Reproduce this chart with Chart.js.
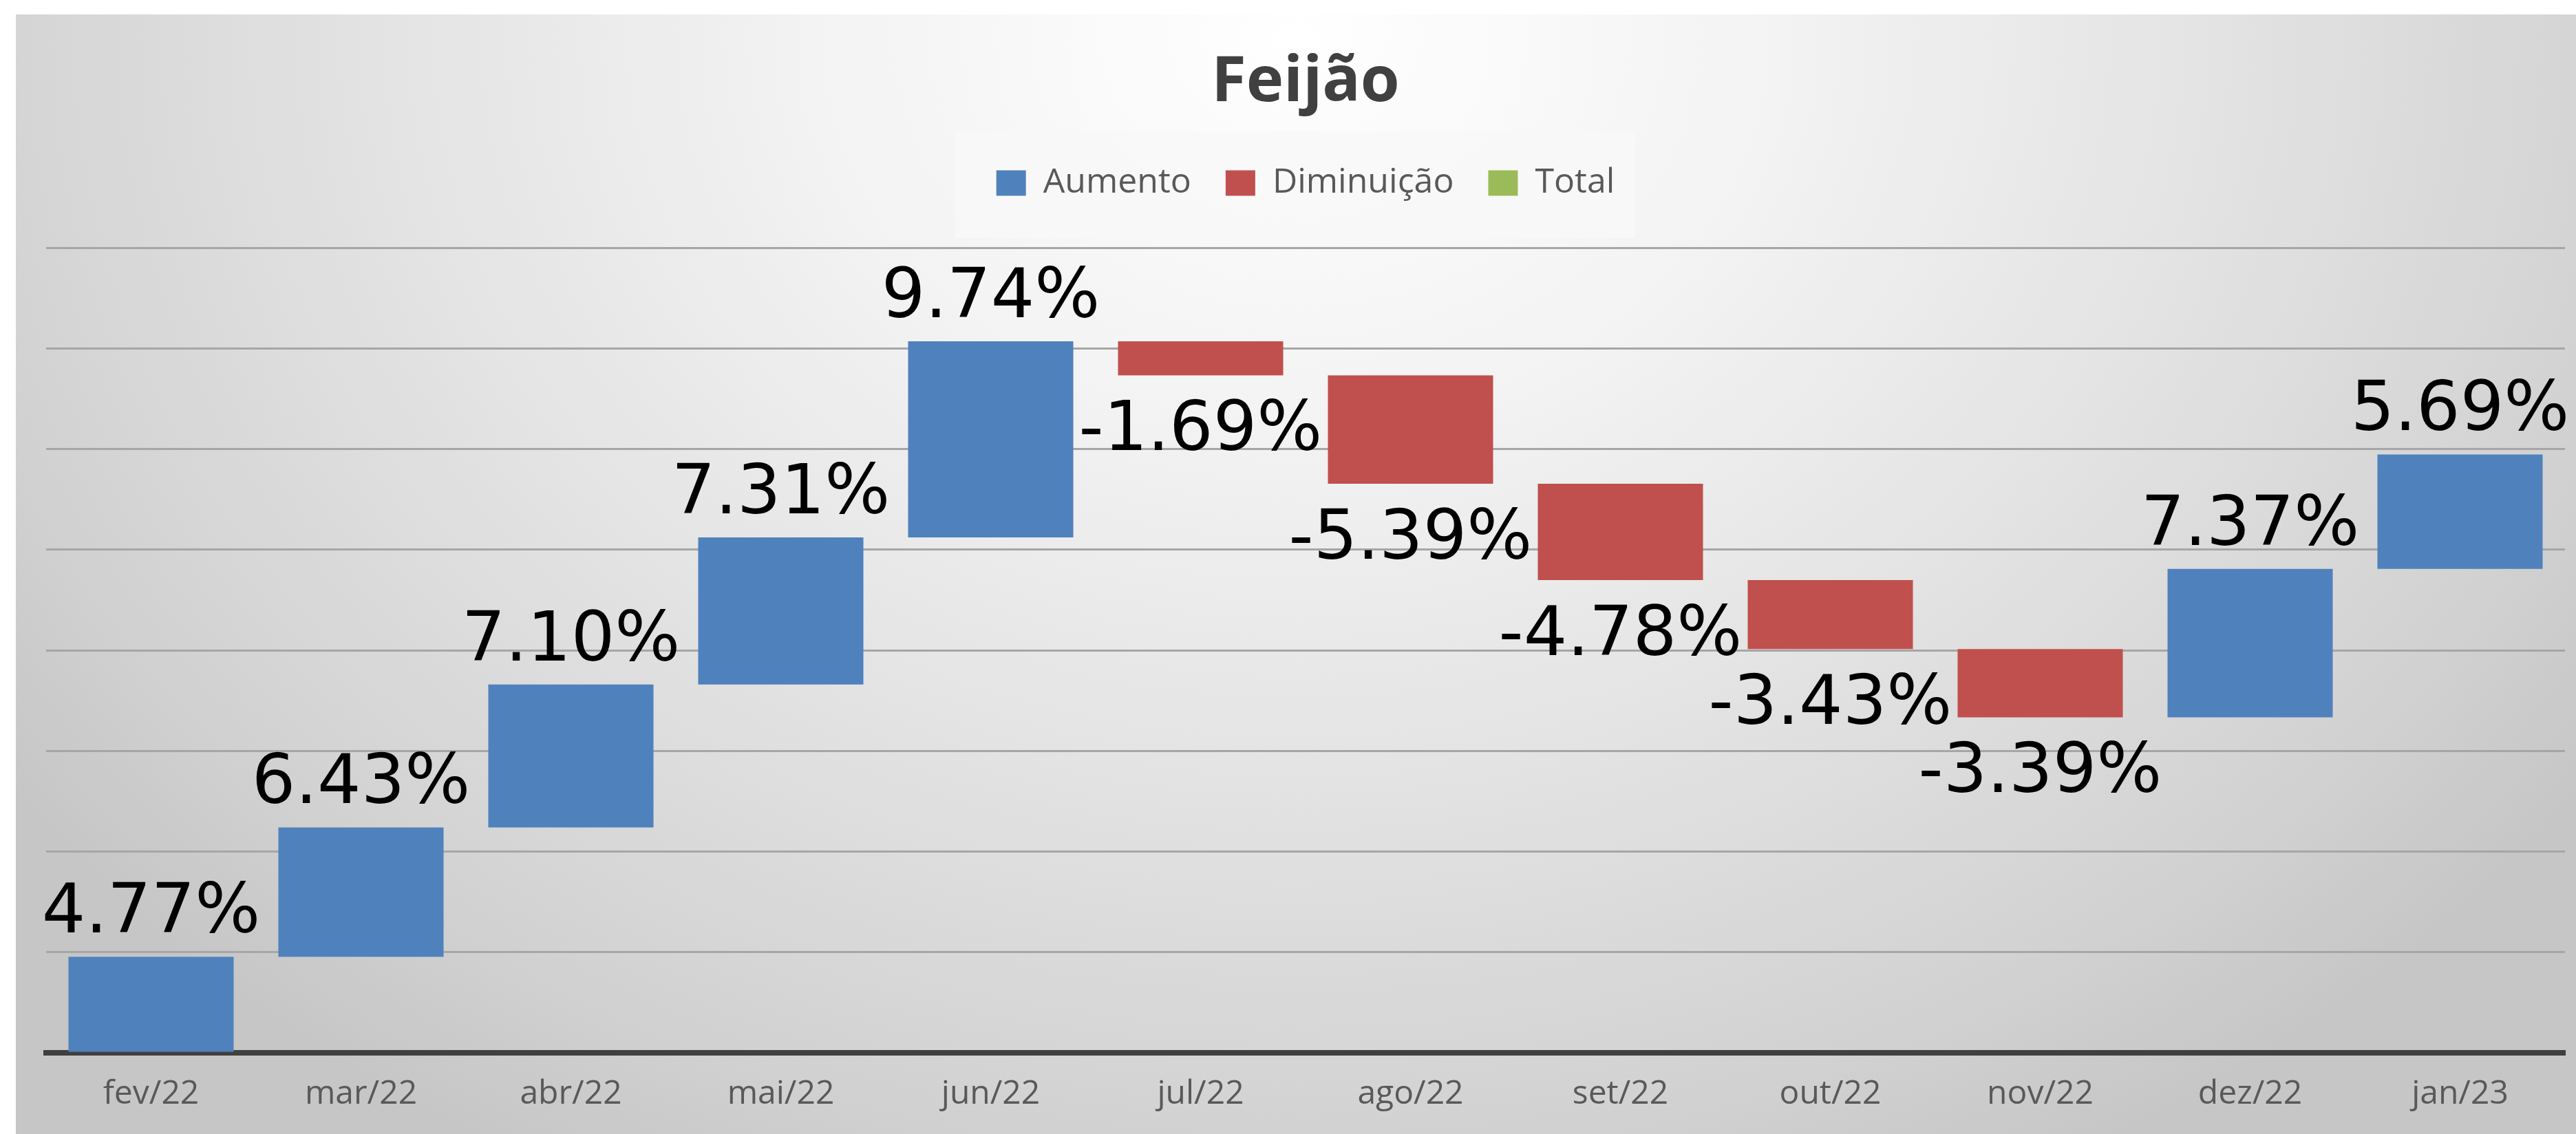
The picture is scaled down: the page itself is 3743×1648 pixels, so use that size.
<!DOCTYPE html>
<html>
<head>
<meta charset="utf-8">
<script src="https://cdn.jsdelivr.net/npm/chart.js@4.4.0/dist/chart.umd.min.js"></script>
<style>
  html, body { margin: 0; padding: 0; background: #ffffff; width: 3743px; height: 1648px; overflow: hidden; }
  #bg { position: absolute; left: 23px; top: 21px; width: 3720px; height: 1627px;
        background: radial-gradient(ellipse 62% 115% at 50% 2%, #ffffff 0%, #f3f3f3 30%, #e3e3e3 58%, #d2d2d2 85%, #c6c6c6 100%); }
  #wrap { position: absolute; left: 0; top: 0; width: 3743px; height: 1648px; }
</style>
</head>
<body>
<div id="bg"></div>
<div id="wrap"><canvas id="c" width="3743" height="1648" style="width:3743px;height:1648px"></canvas></div>
<script>
// ---- data ----
const chartTitle = 'Feijão';
const categories = ['fev/22', 'mar/22', 'abr/22', 'mai/22', 'jun/22', 'jul/22', 'ago/22', 'set/22', 'out/22', 'nov/22', 'dez/22', 'jan/23'];
const changes = [4.77, 6.43, 7.10, 7.31, 9.74, -1.69, -5.39, -4.78, -3.43, -3.39, 7.37, 5.69];
const seriesNames = ['Aumento', 'Diminuição', 'Total'];
const seriesColors = ['#4F81BD', '#C0504D', '#9BBB59'];
const yMin = 0, yMax = 40, yStep = 5;

// ---- waterfall ranges built from the changes ----
let running = 0;
const increaseData = [], decreaseData = [], totalData = [];
changes.forEach(v => {
  const start = running;
  running = Math.round((running + v) * 100) / 100;
  if (v >= 0) { increaseData.push([start, running]); decreaseData.push(null); }
  else { increaseData.push(null); decreaseData.push([running, start]); }
  totalData.push(null);
});

const labelPlugin = {
  id: 'wfLabels',
  afterDatasetsDraw(chart) {
    const ctx = chart.ctx;
    ctx.save();
    ctx.font = '100px "DejaVu Sans"';
    ctx.fillStyle = '#000000';
    ctx.textAlign = 'center';
    ctx.textBaseline = 'alphabetic';
    [0, 1].forEach(di => {
      const meta = chart.getDatasetMeta(di);
      meta.data.forEach((bar, i) => {
        if (chart.data.datasets[di].data[i] == null) return;
        const v = changes[i];
        const top = Math.min(bar.y, bar.base), bot = Math.max(bar.y, bar.base);
        const txt = v.toFixed(2) + '%';
        if (v >= 0) ctx.fillText(txt, bar.x, top - 35);
        else ctx.fillText(txt, bar.x, bot + 109);
      });
    });
    ctx.restore();
  }
};

// faint panel behind the legend items
const legendPanel = {
  id: 'legendPanel',
  beforeDraw(chart) {
    const lg = chart.legend;
    if (!lg || !lg.legendHitBoxes || !lg.legendHitBoxes.length) return;
    const hb = lg.legendHitBoxes;
    const left = hb[0].left - 60, right = hb[hb.length - 1].left + hb[hb.length - 1].width + 30;
    const top = hb[0].top - 50, bottom = hb[0].top + hb[0].height + 55;
    const ctx = chart.ctx;
    ctx.save();
    ctx.fillStyle = 'rgba(248,248,248,0.85)';
    ctx.fillRect(left, top, right - left, bottom - top);
    ctx.restore();
  }
};

Chart.defaults.font.family = '"Open Sans", sans-serif';

const barCommon = { grouped: false, barPercentage: 0.787, categoryPercentage: 1, borderWidth: 0 };

new Chart(document.getElementById('c'), {
  type: 'bar',
  data: {
    labels: categories,
    datasets: [
      Object.assign({ label: seriesNames[0], data: increaseData, backgroundColor: seriesColors[0], borderColor: seriesColors[0] }, barCommon),
      Object.assign({ label: seriesNames[1], data: decreaseData, backgroundColor: seriesColors[1], borderColor: seriesColors[1] }, barCommon),
      Object.assign({ label: seriesNames[2], data: totalData, backgroundColor: seriesColors[2], borderColor: seriesColors[2] }, barCommon)
    ]
  },
  options: {
    responsive: false,
    devicePixelRatio: 1,
    animation: false,
    layout: { padding: { left: 67, right: 16, top: 0, bottom: 0 } },
    plugins: {
      title: {
        display: true, text: chartTitle, color: '#404040',
        font: { size: 92, weight: 'bold' },
        padding: { top: 66, bottom: 14.6 }
      },
      legend: {
        display: true, position: 'top',
        labels: { color: '#595959', font: { size: 50 }, boxWidth: 43, boxHeight: 37, padding: 50 }
      },
      subtitle: {
        display: true, text: '', weight: 500,
        font: { size: 10 }, padding: { top: 47, bottom: 0 }
      },
      tooltip: { enabled: false }
    },
    scales: {
      x: {
        grid: { display: false, drawTicks: false },
        border: { display: true, color: '#404040', width: 8 },
        ticks: { color: '#595959', font: { size: 48 }, padding: 32 },
        afterFit(scale) { scale.height = 118; }
      },
      y: {
        min: yMin, max: yMax,
        ticks: { display: false, stepSize: yStep },
        grid: { color: '#a6a6a6', lineWidth: 3, drawTicks: false },
        border: { display: false }
      }
    }
  },
  plugins: [legendPanel, labelPlugin]
});
</script>
</body>
</html>
